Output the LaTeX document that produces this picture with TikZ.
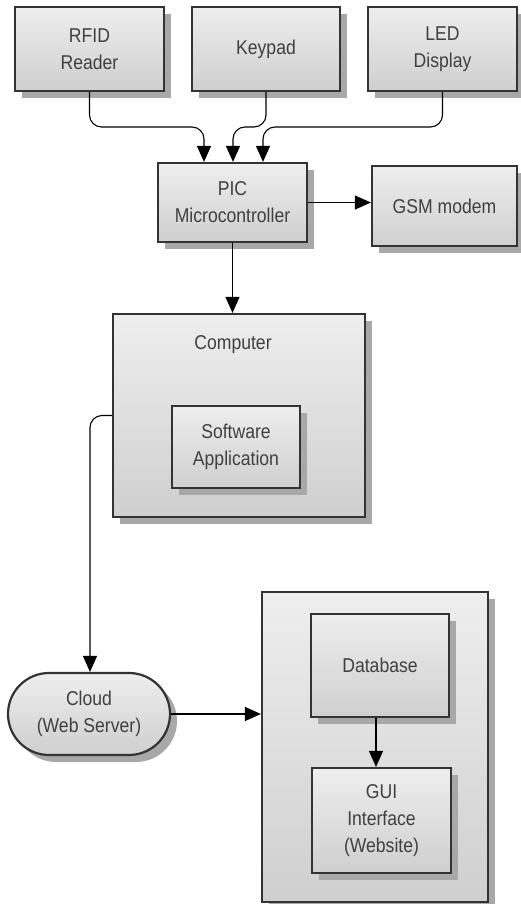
\documentclass[tikz,border=0pt]{standalone}
\usepackage{fontspec}
\setmainfont{Liberation Sans}[FakeStretch=0.88]
\usetikzlibrary{shadows,arrows.meta,shapes.misc,calc}
\definecolor{edgegray}{HTML}{333333}
\definecolor{txtgray}{HTML}{404040}
\definecolor{shadgray}{HTML}{A8A8A8}
\definecolor{topg}{HTML}{EEEEEE}
\definecolor{botg}{HTML}{CFCFCF}
\tikzset{
  blk/.style={draw=edgegray, line width=2.2pt, top color=topg, bottom color=botg,
    text=txtgray, align=center, inner sep=0pt,
    font=\fontsize{20}{27}\selectfont,
    drop shadow={shadow xshift=7pt, shadow yshift=-7pt, fill=shadgray, opacity=1}},
  conn/.style={draw=black, line width=1.1pt, -{Triangle[width=14pt,length=16pt]}},
  lbl/.style={text=txtgray, font=\fontsize{20}{27}\selectfont, align=center, inner sep=0pt}
}
\begin{document}
\begin{tikzpicture}[x=1pt,y=-1pt]
\useasboundingbox (0,0) rectangle (520,904);
% top row
\node[blk, minimum width=149pt, minimum height=84pt] (rfid) at (89.5,49) {RFID\\Reader};
\node[blk, minimum width=148pt, minimum height=84pt] (keypad) at (266,49) {Keypad};
\node[blk, minimum width=149pt, minimum height=84pt] (led) at (442.5,49) {LED\\Display};
% PIC and GSM
\node[blk, minimum width=149pt, minimum height=79pt] (pic) at (232.5,202.5) {PIC\\Microcontroller};
\node[blk, minimum width=145pt, minimum height=80pt] (gsm) at (444.5,206) {GSM modem};
% computer
\node[blk, minimum width=252pt, minimum height=203pt] (computer) at (239,415.5) {};
\node[lbl] (complbl) at (233,345) {Computer};
\node[blk, minimum width=128pt, minimum height=82pt] (software) at (236,447) {Software\\Application};
% cloud
\node[blk, rounded rectangle, minimum width=162pt, minimum height=82pt] (cloud) at (89,714) {Cloud\\(Web Server)};
% server container
\node[blk, minimum width=226pt, minimum height=310pt] (container) at (375,747) {};
\node[blk, minimum width=138pt, minimum height=103pt] (db) at (380,665.5) {Database};
\node[blk, minimum width=139pt, minimum height=105pt] (gui) at (381.5,820.5) {GUI\\Interface\\(Website)};
% connectors
\coordinate (c1) at (204,127);
\coordinate (c2) at (233,127);
\coordinate (c3) at (263,127);
\draw[conn, rounded corners=12pt] (rfid.south) |- (c1) -- (c1 |- pic.north);
\draw[conn, rounded corners=12pt] (keypad.south) |- (c2) -- (c2 |- pic.north);
\draw[conn, rounded corners=12pt] (led.south) |- (c3) -- (c3 |- pic.north);
\draw[conn] (pic.east) -- (pic.east -| gsm.west);
\draw[conn] (pic.south) -- (pic.south |- computer.north);
\coordinate (c4) at (90,0);
\draw[conn, rounded corners=12pt] (computer.west) -| (c4 |- cloud.north);
\draw[conn] (cloud.east) -- (cloud.east -| container.west);
\coordinate (c5) at (376,0);
\draw[conn] (c5 |- db.south) -- (c5 |- gui.north);
\end{tikzpicture}
\end{document}
